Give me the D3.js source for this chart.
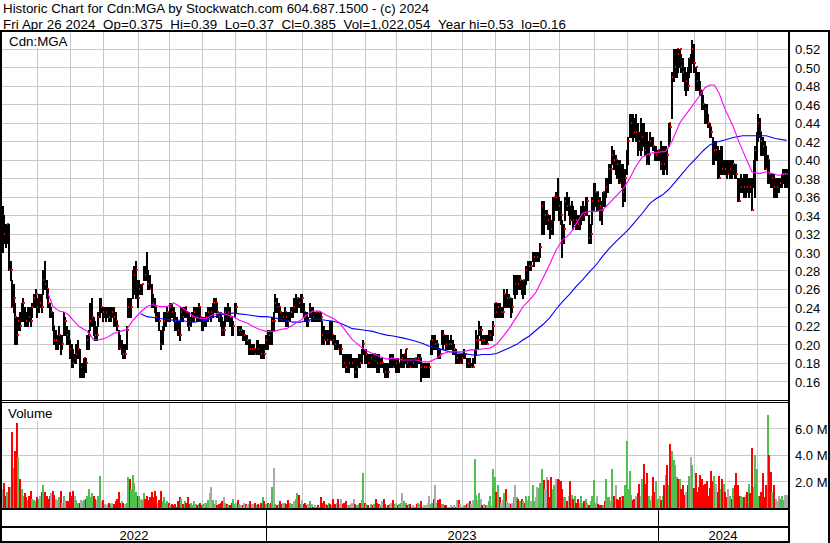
<!DOCTYPE html>
<html><head><meta charset="utf-8">
<script src="https://cdn.jsdelivr.net/npm/d3@7"></script>
<style>
body{margin:0;background:#fff}
svg{display:block}
text{font-family:"Liberation Sans",Arial,sans-serif;fill:#000}
</style>
</head><body>
<svg id="chart" width="830" height="543"></svg>
<script>
// ---------------- DATA ----------------
const titleLine1 = "Historic Chart for Cdn:MGA by Stockwatch.com 604.687.1500 - (c) 2024";
const titleLine2 = "Fri Apr 26 2024\u00a0\u00a0Op=0.375\u00a0\u00a0Hi=0.39\u00a0\u00a0Lo=0.37\u00a0\u00a0Cl=0.385\u00a0\u00a0Vol=1,022,054\u00a0\u00a0Year hi=0.53\u00a0\u00a0lo=0.16";
const symbolLabel = "Cdn:MGA";
const volumeLabel = "Volume";

// daily high / low / close in cents
const hi = [
35,34,33,33,33,29,27,26.5,24.5,23,
23,23.5,24.5,25,24,23.5,24,24,24,24.5,
25.5,26,25,25.5,25.5,25.5,28,29,27,26,
24.5,24,23.5,22,21.5,21,22,21,21,23.5,
23,22,21.5,20.5,20,19.5,19,20,20.5,19.5,
18,18,18.5,18.5,21,21.5,24.5,25,23,22.5,
22,23.5,25,25,24,24,24,24,24,24,
24,24,23.5,22.5,21.5,21,20.5,20,20,22,
25,25,25,28,28.5,29,27,27,26.5,26.5,
28.5,28.5,30,28,27.5,26.5,25.5,25,24,23.5,
23.5,21.5,22,23.5,23.5,24,23.5,24.5,24.5,24,
23.5,23,22.5,22.5,24,24,24,24,23.5,23.5,
23,23.5,24,24,24,24.5,24,23,23,23,
23.5,24,24,24,24.5,25,25,24.5,23.5,23.5,
23,22.5,24,24,24.5,24,23,22.5,24.5,24.5,
22,22,22,21.5,21.5,21,21,20.5,20.5,20,
20,19.5,20.5,20.5,20,20,20,20,21,21.5,
21.5,21.5,23,23.5,25.5,25,24.5,24,23.5,23.5,
24,23.5,23.5,23.5,24,24,25,25.5,25,25,
25.5,25.5,24.5,23.5,23.5,23,24.5,24,24,23.5,
23.5,23.5,23.5,23.5,22.5,22,21.5,21.5,21.5,22.5,
22.5,21,21,20.5,20.5,20,20,19,19,19,
19,19,19,18.5,18.5,18.5,18.5,19,19,19.5,
20.5,19.5,19.5,19,19,19,19,19,19,19,
19,18.5,18.5,18,18,18,18,19,19,19,
18.5,18.5,18.5,18,19.5,19,19,19.5,18.5,18.5,
18.5,18.5,18.5,18.5,18.5,19,19,18.5,18,18,
18,18,18,20.5,21,21,21,20.5,20,19.5,
21.5,21.5,21,21,21,20.5,21,20.5,20,19.5,
19,19,19,19,19.5,19,18.5,18.5,18.5,18,
18.5,19.5,21.5,21,22.5,22,21,21,21,21,
21.5,21.5,21.5,22.5,24.5,24.5,24.5,24.5,24,24,
26,25.5,26,25.5,25,25,27.5,27.5,27.5,27.5,
27.5,27,27,27,28.5,29,29,29,30,30,
30,30,30,31,35.5,35.5,34.5,34.5,34,34,
33.5,36,36,36.5,38,36,35.5,33.5,33,36,
36.5,36,35,35.5,35,34.5,34.5,34,34,35,
35.5,35,36,36,34,33,36,37.5,37.5,36.5,
36.5,36,35.5,36.5,36.5,38,38,39.5,39.5,41.5,
41,40.5,40,40,40,39.5,39.5,39,41,42.5,
45,45,45,44.5,45,44,43,44.5,44,44,
43,43,42,43,42.5,42.5,41.5,41.5,41,41,
42,41.5,41.5,41.5,41,44,44,49.5,52,52,
52,52,52,51.5,51,50,49.5,50,51,51.5,
53,52.5,50,49.5,49.5,48.5,47.5,47,46,46,
45,44,43.5,42.5,42,42,41.5,41,41.5,41.5,
40,40,40,40,40,40,40,39.5,39.5,38,
38,38.5,38,38.5,38.5,38.5,38,38,38,40,
41.5,43,45,44.5,43,42.5,42,41.5,40.5,40,
38.5,38.5,38.5,38,38,38,38,38.5,39,39,39
];
const lo = [
30,31,30.5,31,28,27,24,23.5,20,20,
21.5,21.5,22.5,22.5,22,22,22,22.5,22,23,
24,24,23,23.5,24,23.5,25.5,26,25,24,
23,23,21.5,20,19.5,19.5,20,19,19.5,21,
21,20,20,18.5,17.5,17.5,18,18,18.5,16.5,
16.5,16.5,16.5,17,19.5,19.5,21.5,22,21,20.5,
20.5,22,23,23.5,22.5,23,22.5,23,22.5,22.5,
23,22,22,21.5,19.5,19.5,19,18.5,18.5,19.5,
23,23,23,25,25.5,25,24,25.5,25.5,25.5,
27,27,27,26,26,24,24,23.5,22.5,22.5,
21.5,19.5,20,21.5,22,22.5,22.5,22.5,23,22.5,
21.5,21.5,21,20.5,22.5,22.5,23,23,22,21.5,
22,22.5,22.5,23,22.5,22.5,22.5,21.5,21.5,22,
22,22.5,23,22.5,23,23.5,23.5,23,22.5,22,
21,21,22,22.5,22.5,22,21,21,23,23.5,
21,21,21,20.5,20.5,20,20,19,19,19,
19,19,19,19,19,18.5,18.5,18.5,19.5,19.5,
20,20,20,21.5,23.5,23.5,22.5,22.5,22.5,22.5,
22.5,22,22,22.5,23,23,23.5,23.5,23.5,24,
23.5,23.5,23,22.5,22,22,23,22.5,22.5,22.5,
22.5,22.5,22.5,22.5,20,20,20.5,20,20,20.5,
20.5,20,19.5,19.5,19.5,19,19,17.5,17.5,17,
17,17,17.5,17.5,17.5,16.5,16.5,17.5,17.5,18,
19,18,18,17.5,17.5,17.5,17.5,17.5,17.5,17,
17,17.5,17.5,17,16.5,16.5,16.5,17.5,17.5,17.5,
17.5,17,17,17,17.5,17.5,17.5,18,17.5,17.5,
17.5,17.5,17.5,17.5,17.5,18,18,16,16.5,16.5,
16.5,16.5,16.5,19,19,19.5,19.5,19.5,18.5,18.5,
20,19.5,20,19.5,19.5,19.5,19.5,19,19,18,
18,18,18,18,18.5,18.5,17.5,17.5,17.5,17.5,
17.5,18,19,19.5,21,20.5,20,20,20,20,
20.5,20.5,20.5,21,23,23,23,23,23,23,
24,24,24,24,23,23.5,25.5,25,25.5,26,
26,25.5,25,25.5,26.5,27,28,28,29,28.5,
29,29,29,29.5,32,32,33,33,32.5,31.5,
32,32,33.5,34.5,34.5,33.5,33,29.5,31,33.5,
34.5,34,33,33.5,32.5,33,32.5,32.5,32.5,33,
33.5,33.5,34,34,31,31,33,34.5,35,34.5,
34.5,33.5,33,35,35,36,36.5,37.5,37.5,39.5,
39,38.5,38,37.5,37.5,37,35,35.5,38.5,39.5,
42.5,42.5,42,42.5,42,40.5,41,40.5,41,41.5,
40.5,39.5,39.5,41.5,41.5,41,40,40,40,40,
39,38.5,38.5,39,38.5,41.5,42,44.5,48.5,49,
49,49.5,50,49.5,48.5,47.5,47,47.5,49,49.5,
50.5,49.5,47.5,47.5,47.5,47,45.5,45.5,44,44,
43.5,42.5,42.5,39.5,39.5,40,38,38,38.5,38.5,
38.5,38.5,38,38.5,38,38,38.5,38,38,35.5,
35.5,36.5,36.5,36,36,36.5,36,36.5,34.5,37,
36,40,42,42.5,40.5,40.5,39,39,37.5,37.5,
37,37,36,36,36,36.5,37,37,37.5,37,37
];
const cl = [
33,32,31,33,28,28,24,25,23,21,
22.5,22,23,24.5,23,22.5,23.5,23,22.5,24,
25,25.5,24,24.5,24.5,24,27,26.5,26,24.5,
23.5,23.5,22,20.5,20.5,20.5,21,20,20,22.5,
22.5,21,20.5,19.5,18.5,18,18,19,19.5,17.5,
17.5,17.5,18.5,18,20.5,21,22.5,23,22,21,
21,23,24,24,23.5,23.5,23.5,23.5,23,23.5,
23.5,23,22.5,22,20.5,19.5,19.5,19,19,21.5,
24,23.5,24,26,27.5,28,25,26,26,26.5,
28,27.5,27,26.5,26,25,24.5,24,23,23,
22.5,20,21.5,22.5,23,23.5,23,24,23.5,23,
22.5,22,21.5,21,23.5,23,24,23.5,22.5,22,
22.5,23,23.5,23.5,23,24,23,22,22.5,22.5,
23,23.5,23.5,23.5,24,24.5,24.5,23.5,23,22.5,
21.5,21.5,23.5,23,23.5,23,21.5,22,24,24,
21,21.5,21.5,21,21,20.5,20.5,20.5,19.5,19.5,
19.5,19,20,19.5,19.5,19,19.5,19,20.5,20,
21,20.5,22.5,22.5,24.5,24,24,23.5,23,23,
23.5,23,22.5,23,23.5,24,24,24.5,25,24.5,
25,25,23.5,23,22.5,22.5,23.5,23.5,23,23,
23.5,23,23.5,23,21,20.5,21,20.5,21,20.5,
21,20.5,20,20,19.5,19.5,19.5,18.5,18,17.5,
17.5,18,18,18,18,17,17.5,18.5,18,19,
20,18.5,19,18,18,18.5,18,19,18.5,18,
17.5,18,18,17.5,17,17.5,17,18.5,18.5,17.5,
18,18,17.5,18,18.5,18.5,19,19.5,18,18,
17.5,18,18,18.5,18,18.5,18.5,17.5,17.5,17.5,
17.5,17.5,17.5,20,20.5,20,20,20,19.5,19,
20.5,21,20.5,20,20,20,20,19.5,19.5,18.5,
18.5,18,18,18.5,18.5,19,18,18,17.5,17.5,
17.5,19,20.5,20.5,21.5,21.5,20.5,20.5,20,20,
20.5,21,21,22,24.5,23.5,24,23.5,23.5,23.5,
25.5,25,25,25,24,24,26.5,26.5,27,26.5,
27,26,27,26.5,28,28,28.5,28.5,29,29.5,
29.5,29.5,30,30.5,35,34,34,34,33.5,33,
32.5,35.5,36,36,35.5,35,34,31,32.5,35.5,
35,35,33.5,34,33.5,34,33.5,33,33,34,
34.5,34,35,35.5,31.5,32,35.5,36,36.5,36.5,
35.5,35,34.5,36.5,36,37,37.5,39,39,40.5,
40,40,39.5,38,37.5,37.5,36.5,38,40,42,
43.5,44,43.5,43,43,42.5,42,42,42.5,42,
41,39.5,40.5,42,42,41.5,40,40.5,41,41,
39.5,40,39.5,41,40.5,44,43.5,49,49.5,50,
52,51.5,52,50,49.5,48.5,48.5,48,51,51,
52,50.5,50,48.5,48,47.5,46.5,46,45.5,44.5,
44,43.5,43,40.5,41,41,38.5,38,40,39,
39.5,39,38.5,38.5,39,38.5,39.5,39,38.5,36,
35.5,37,37.5,37,37.5,37,37.5,37,34.5,38,
41,42,44,43,42,41.5,39.5,39,40,38.5,
37.5,38,37,37,37,37,37.5,38,38.5,38.5,38.5
];
// daily volume, in units of 100,000 shares
const vol = [
14,19,9,12,16,16,57,30,43,64,
38,22,14,9,11,8,6,9,13,7,
6,5,8,7,9,12,17,12,9,7,
9,11,13,10,7,6,8,13,4,9,
6,5,5,12,9,13,9,6,4,4,
6,5,6,7,9,14,8,11,9,7,
6,9,24,5,6,3,2,3,4,3,
4,3,5,7,12,4,5,4,3,4,
23,22,14,25,19,12,9,9,7,6,
11,7,9,6,8,12,8,13,9,4,
6,13,5,8,4,5,4,2,3,2,
3,1,5,8,7,3,5,4,8,3,
4,2,5,3,2,3,4,2,3,4,
4,6,11,16,6,3,6,2,3,4,
5,8,4,3,2,2,4,7,3,4,
6,3,2,2,4,3,2,3,5,3,
3,4,2,3,2,4,8,5,3,4,
3,4,16,30,3,2,3,5,3,4,
4,3,6,4,3,3,5,7,11,10,
3,6,3,4,2,3,5,3,1,2,
1,2,1,8,4,5,3,2,4,3,
2,7,3,4,7,3,7,3,4,5,
2,2,3,4,7,3,2,3,4,6,
26,4,3,2,1,3,2,3,7,4,
3,2,5,7,3,1,2,3,4,6,
3,4,2,3,4,11,5,4,2,3,
3,1,2,1,3,4,3,5,1,2,
2,4,9,3,4,7,17,4,6,7,
3,3,2,2,1,1,2,1,2,1,
6,6,3,1,2,2,3,4,5,3,
6,37,10,6,11,7,2,3,2,2,
5,9,2,29,23,12,17,8,4,6,
11,14,5,4,3,4,8,17,8,7,
5,7,5,4,9,6,9,5,17,5,
8,16,15,19,29,21,14,23,21,8,
23,14,17,22,22,21,20,14,8,8,
5,9,20,10,7,9,4,7,4,9,
4,5,7,4,2,5,9,21,4,9,
3,2,2,2,5,22,8,8,5,29,
9,17,7,6,8,9,9,17,50,14,
28,10,6,7,9,11,18,9,22,33,
18,26,9,6,9,23,12,20,7,9,
6,9,17,25,32,17,48,43,36,32,
23,22,22,14,17,10,12,17,24,38,
32,15,26,12,16,25,22,17,18,20,
9,15,28,20,24,18,12,24,14,22,
18,12,8,14,9,7,15,17,26,17,
9,9,8,8,10,12,18,11,45,16,
40,29,9,9,12,26,8,17,70,40,
27,12,17,7,5,9,7,9,6,10,10
];
// moving averages: [bar index, cents]
const maShort = [[29,25.5],[32,24.1],[36,23.6],[39,23.5],[42,23.2],[45,22.6],[49,21.9],[54,21.4],[58,20.5],[62,20.5],[66,20.7],[71,21.2],[75,21.4],[79,21.6],[83,22.6],[88,23.5],[92,24.1],[96,24.3],[100,24.1],[105,24.1],[109,24.5],[113,24.1],[117,23.7],[122,23.0],[126,22.8],[130,22.8],[134,23.2],[139,23.4],[143,23.2],[147,23.0],[151,22.6],[156,22.3],[160,21.9],[164,21.6],[168,21.4],[173,21.4],[177,21.6],[181,21.7],[185,22.1],[190,22.6],[194,23.2],[198,23.6],[202,23.6],[206,23.2],[211,22.8],[215,22.3],[219,21.4],[223,20.5],[228,19.8],[232,19.3],[236,19.0],[240,18.7],[245,18.4],[249,18.5],[255,18.3],[260,18.3],[264,18.3],[268,18.1],[272,18.1],[277,18.5],[281,19.0],[285,19.2],[289,19.2],[294,19.2],[298,19.4],[302,19.4],[306,19.5],[311,19.6],[315,20.0],[319,20.8],[323,21.7],[328,23.0],[332,24.1],[336,24.8],[340,25.6],[345,27.3],[349,28.7],[353,30.2],[357,31.3],[362,32.0],[366,33.1],[370,34.2],[374,34.4],[379,34.4],[383,34.6],[387,35.3],[391,36.0],[396,36.9],[400,38.0],[404,39.3],[408,40.3],[413,40.7],[417,40.8],[423,40.9],[427,42.0],[432,44.0],[438,45.4],[444,46.8],[448,47.8],[451,48.1],[454,48.1],[457,47.2],[461,45.4],[466,43.6],[470,41.8],[474,40.2],[478,38.7],[483,38.5],[487,38.7],[491,38.5],[495,38.3],[500,38.5]];
const maLong = [[88,23.3],[92,23.0],[96,22.9],[100,22.8],[105,22.7],[109,22.6],[113,22.6],[117,22.5],[122,22.4],[126,22.5],[130,22.6],[134,22.9],[139,23.2],[143,23.3],[147,23.4],[151,23.3],[156,23.2],[160,23.1],[164,23.0],[168,23.0],[173,22.9],[177,22.7],[181,22.6],[185,22.4],[190,22.4],[194,22.6],[198,22.7],[202,22.7],[206,22.6],[211,22.5],[215,22.3],[219,22.0],[223,21.7],[228,21.6],[232,21.5],[236,21.4],[240,21.2],[245,21.0],[249,20.9],[255,20.7],[260,20.5],[264,20.3],[268,20.1],[272,19.8],[277,19.6],[281,19.4],[285,19.2],[289,19.1],[294,19.0],[298,18.9],[302,18.8],[306,18.9],[311,18.9],[315,19.0],[319,19.3],[323,19.6],[328,20.0],[332,20.5],[336,20.9],[340,21.5],[345,22.2],[349,22.9],[353,23.8],[357,24.6],[362,25.5],[366,26.3],[370,27.0],[374,27.8],[379,28.7],[383,29.6],[387,30.4],[391,31.1],[396,31.9],[400,32.6],[404,33.4],[408,34.2],[413,35.3],[417,35.8],[421,36.2],[425,36.8],[430,37.8],[434,38.6],[438,39.4],[442,40.1],[447,41.0],[451,41.6],[455,41.9],[460,42.1],[466,42.4],[472,42.6],[480,42.6],[487,42.6],[493,42.3],[500,42.1]];

const priceTicks = [16,18,20,22,24,26,28,30,32,34,36,38,40,42,44,46,48,50,52]; // cents
const volTicks = [20,40,60]; // x100k
const monthStarts = [22,43,64,86,106,127,148,168,191,210,231,251,273,293,314,336,355,377,398,418,441,461,481];
const yearStarts = [168,418];
const yearLabels = ["2022","2023","2024"];

// ---------------- DRAW ----------------
const svg = d3.select("#chart");
const W = 830, H = 543;
const plotL = 2, plotR = 788;
const priceTop = 32, priceBot = 400;
const volTop = 402, volBot = 508;

const N = hi.length;
const x = d3.scaleLinear().domain([0, N - 1]).range([2.7, 786.5]);
const y = d3.scaleLinear().domain([14, 54]).range([399.7, 30.5]);
const yv = d3.scaleLinear().domain([0, 80]).range([508, 401.5]);

const px = v => Math.round(v) + 0.5;
const gridColor = "#c8c8c8";

svg.append("rect").attr("width", W).attr("height", H).attr("fill", "#fff");

// titles
svg.append("text").attr("x", 3).attr("y", 13).style("font-size", "13.33px").text(titleLine1);
svg.append("text").attr("x", 3).attr("y", 29).style("font-size", "13.33px")
  .attr("textLength", 563).attr("lengthAdjust", "spacing").text(titleLine2);

// grid - price
const grid = svg.append("g").attr("stroke", gridColor).attr("stroke-width", 1).attr("shape-rendering", "crispEdges");
grid.selectAll("line.hp").data(priceTicks).join("line").attr("class", "hp")
  .attr("x1", plotL).attr("x2", plotR).attr("y1", d => px(y(d))).attr("y2", d => px(y(d)));
grid.selectAll("line.vp").data(monthStarts).join("line").attr("class", "vp")
  .attr("x1", d => px(x(d))).attr("x2", d => px(x(d))).attr("y1", priceTop).attr("y2", priceBot);
// grid - volume
grid.selectAll("line.hv").data(volTicks).join("line").attr("class", "hv")
  .attr("x1", plotL).attr("x2", plotR).attr("y1", d => px(yv(d))).attr("y2", d => px(yv(d)));
grid.selectAll("line.vv").data(monthStarts).join("line").attr("class", "vv")
  .attr("x1", d => px(x(d))).attr("x2", d => px(x(d))).attr("y1", volTop).attr("y2", volBot);

// panel labels
svg.append("rect").attr("x", 2).attr("y", 32).attr("width", 67).attr("height", 16).attr("fill", "#fff");
svg.append("text").attr("x", 9).attr("y", 46).style("font-size", "13.33px").text(symbolLabel);
svg.append("rect").attr("x", 2).attr("y", 403).attr("width", 56).attr("height", 18).attr("fill", "#fff");
svg.append("text").attr("x", 8).attr("y", 418).style("font-size", "13.33px").text(volumeLabel);

// volume bars (colour by close change)
const volColor = i => i === 0 || cl[i] === cl[i - 1] ? "#aaaaaa" : (cl[i] > cl[i - 1] ? "#4fbf4f" : "#ff0000");
svg.append("g").attr("shape-rendering", "crispEdges")
  .selectAll("rect").data(vol).join("rect")
  .attr("x", (d, i) => Math.round(x(i)) - 1).attr("width", 2)
  .attr("y", d => Math.round(yv(d))).attr("height", d => volBot - Math.round(yv(d)))
  .attr("fill", (d, i) => volColor(i));

// price bars: black high-low line, red close tick (next bar drawn over it)
const bars = d3.range(N).map(i => ({i, h: hi[i], l: lo[i], c: cl[i]}));
const bg = svg.append("g").attr("shape-rendering", "crispEdges")
  .selectAll("g").data(bars).join("g");
bg.append("rect")
  .attr("x", d => Math.round(x(d.i)) - 1).attr("width", 2)
  .attr("y", d => Math.round(y(d.h))).attr("height", d => Math.max(2, Math.round(y(d.l)) - Math.round(y(d.h)) + 1))
  .attr("fill", "#000");
bg.append("rect")
  .attr("x", d => Math.round(x(d.i))).attr("width", 2)
  .attr("y", d => Math.round(y(d.c)) - 1).attr("height", 2)
  .attr("fill", "#ff0000");

// moving averages
const line = d3.line().x(d => x(d[0])).y(d => y(d[1]));
svg.append("path").datum(maLong).attr("d", line).attr("fill", "none").attr("stroke", "#0000ff").attr("stroke-width", 1.1);
svg.append("path").datum(maShort).attr("d", line).attr("fill", "none").attr("stroke", "#ff00ff").attr("stroke-width", 1.1);

// axes labels (right)
const ay = svg.append("g").attr("transform", "translate(790,0)")
  .call(d3.axisRight(y).tickValues(priceTicks).tickSize(0).tickPadding(5).tickFormat(d => (d / 100).toFixed(2)));
ay.select(".domain").remove();
ay.selectAll("text").attr("dy", null).attr("y", 5).style("font-size", "13px").style("font-family", "'Liberation Sans',Arial,sans-serif").attr("fill", "#000");

const av = svg.append("g").attr("transform", "translate(790,0)")
  .call(d3.axisRight(yv).tickValues(volTicks).tickSize(0).tickPadding(5).tickFormat(d => (d / 10).toFixed(1) + " M"));
av.select(".domain").remove();
av.selectAll("text").attr("dy", null).attr("y", 5).style("font-size", "13px").style("font-family", "'Liberation Sans',Arial,sans-serif").attr("fill", "#000");

// frame
const frame = svg.append("g").attr("fill", "#000").attr("shape-rendering", "crispEdges");
frame.append("rect").attr("x", 0).attr("y", 30).attr("width", W).attr("height", 2);
frame.append("rect").attr("x", 0).attr("y", 30).attr("width", 2).attr("height", H - 30);
frame.append("rect").attr("x", plotR).attr("y", 30).attr("width", 2).attr("height", H - 30);
frame.append("rect").attr("x", W - 2).attr("y", 30).attr("width", 2).attr("height", H - 30);
frame.append("rect").attr("x", 0).attr("y", priceBot).attr("width", plotR).attr("height", 1);
frame.append("rect").attr("x", 0).attr("y", volTop - 0.5).attr("width", plotR).attr("height", 1);
frame.append("rect").attr("x", 0).attr("y", volBot).attr("width", plotR + 2).attr("height", 2);
frame.append("rect").attr("x", 0).attr("y", 526).attr("width", plotR + 2).attr("height", 2);
frame.append("rect").attr("x", 0).attr("y", 541).attr("width", plotR + 2).attr("height", 2);
frame.selectAll("rect.yd").data(yearStarts).join("rect").attr("class", "yd")
  .attr("x", d => Math.round(x(d))).attr("y", 510).attr("width", 1).attr("height", 31);

// year labels
const bounds = [plotL, ...yearStarts.map(d => x(d)), plotR];
svg.selectAll("text.yr").data(yearLabels).join("text").attr("class", "yr")
  .attr("x", (d, i) => (bounds[i] + bounds[i + 1]) / 2).attr("y", 540)
  .attr("text-anchor", "middle").style("font-size", "13px").text(d => d);
</script>
</body></html>
